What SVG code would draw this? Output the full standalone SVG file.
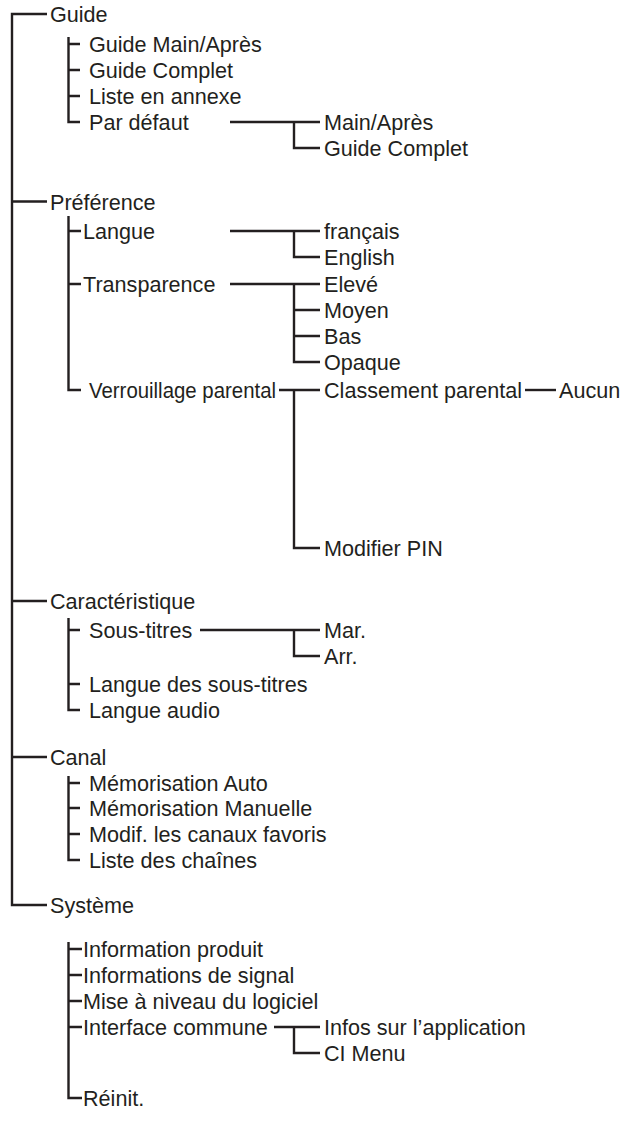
<svg xmlns="http://www.w3.org/2000/svg" width="627" height="1121" viewBox="0 0 627 1121">
<style>
text{font-family:"Liberation Sans",Arial,Helvetica,sans-serif;font-size:21.6px;fill:#231f20}
.c path{fill:none;stroke:#231f20;stroke-width:2.4;stroke-linejoin:miter;stroke-linecap:butt}
</style>
<rect width="627" height="1121" fill="#ffffff"/>
<g class="c" id="connectors">
<path d="M47,14 H12 V905 H47 M12,201.5 H47 M12,601 H47 M12,757 H47"/>
<path d="M68.5,37 V122 H80 M68.5,44 H80 M68.5,70 H80 M68.5,96 H80"/>
<path d="M230,122 H320 M294,122 V148 H320"/>
<path d="M68.5,216 V390 H81 M68.5,231 H81 M68.5,284 H81"/>
<path d="M230,231 H320 M294,231 V257 H320"/>
<path d="M230,284 H320 M294,284 V362 H320 M294,310 H320 M294,336 H320"/>
<path d="M279,390 H320 M294,390 V548 H320"/>
<path d="M525,390 H556"/>
<path d="M68.5,618 V710 H80 M68.5,630 H80 M68.5,684 H80"/>
<path d="M200,630 H320 M294,630 V656 H320"/>
<path d="M68.5,776 V860 H80 M68.5,783 H80 M68.5,808 H80 M68.5,834 H80"/>
<path d="M68.5,942 V1098 H82 M68.5,949 H82 M68.5,975 H82 M68.5,1001 H82 M68.5,1027 H82"/>
<path d="M274,1027 H320 M294,1027 V1053 H320"/>
</g>
<g id="n-guide"><text x="50" y="22">Guide</text></g>
<g id="n-guide-main"><text x="89" y="52">Guide Main/Après</text></g>
<g id="n-guide-complet"><text x="89" y="78">Guide Complet</text></g>
<g id="n-liste-annexe"><text x="89" y="104">Liste en annexe</text></g>
<g id="n-par-defaut"><text x="89" y="130">Par défaut</text></g>
<g id="n-pd-main"><text x="324" y="130">Main/Après</text></g>
<g id="n-pd-complet"><text x="324" y="156">Guide Complet</text></g>
<g id="n-preference"><text x="50" y="209.5">Préférence</text></g>
<g id="n-langue"><text x="83" y="239">Langue</text></g>
<g id="n-francais"><text x="324" y="239">français</text></g>
<g id="n-english"><text x="324" y="265">English</text></g>
<g id="n-transparence"><text x="83" y="292">Transparence</text></g>
<g id="n-eleve"><text x="324" y="292">Elevé</text></g>
<g id="n-moyen"><text x="324" y="318">Moyen</text></g>
<g id="n-bas"><text x="324" y="344">Bas</text></g>
<g id="n-opaque"><text x="324" y="370">Opaque</text></g>
<g id="n-verrouillage"><text x="89" y="398" textLength="187" lengthAdjust="spacingAndGlyphs">Verrouillage parental</text></g>
<g id="n-classement"><text x="324" y="398">Classement parental</text></g>
<g id="n-aucun"><text x="559" y="398">Aucun</text></g>
<g id="n-modifier-pin"><text x="324" y="556">Modifier PIN</text></g>
<g id="n-caracteristique"><text x="50" y="609">Caractéristique</text></g>
<g id="n-sous-titres"><text x="89" y="638">Sous-titres</text></g>
<g id="n-mar"><text x="324" y="638">Mar.</text></g>
<g id="n-arr"><text x="324" y="664">Arr.</text></g>
<g id="n-langue-st"><text x="89" y="692">Langue des sous-titres</text></g>
<g id="n-langue-audio"><text x="89" y="718">Langue audio</text></g>
<g id="n-canal"><text x="50" y="765">Canal</text></g>
<g id="n-mem-auto"><text x="89" y="791">Mémorisation Auto</text></g>
<g id="n-mem-manuelle"><text x="89" y="816">Mémorisation Manuelle</text></g>
<g id="n-modif-fav"><text x="89" y="842">Modif. les canaux favoris</text></g>
<g id="n-liste-chaines"><text x="89" y="868">Liste des chaînes</text></g>
<g id="n-systeme"><text x="50" y="913">Système</text></g>
<g id="n-info-produit"><text x="83" y="957">Information produit</text></g>
<g id="n-info-signal"><text x="83" y="983">Informations de signal</text></g>
<g id="n-mise-niveau"><text x="83" y="1009">Mise à niveau du logiciel</text></g>
<g id="n-interface"><text x="83" y="1035">Interface commune</text></g>
<g id="n-infos-app"><text x="324" y="1035">Infos sur l’application</text></g>
<g id="n-ci-menu"><text x="324" y="1061">CI Menu</text></g>
<g id="n-reinit"><text x="83" y="1106">Réinit.</text></g>
</svg>
